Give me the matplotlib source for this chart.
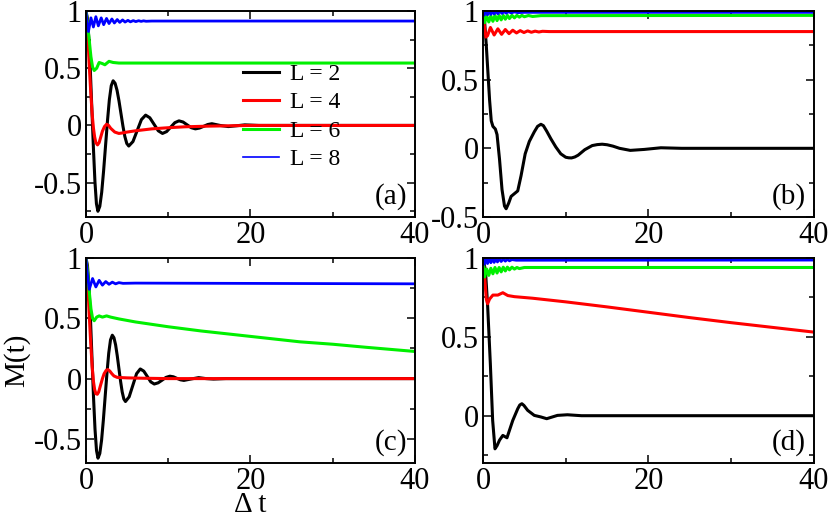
import matplotlib
matplotlib.use("Agg")
import matplotlib.pyplot as plt
from matplotlib.ticker import MultipleLocator, FormatStrFormatter

plt.rcParams['font.family'] = ['Liberation Serif', 'DejaVu Serif']
plt.rcParams['axes.unicode_minus'] = False

# ---- panel (a) ----
t_a2 = [0, 0.18, 0.36, 0.54, 0.725, 0.91, 1.09, 1.27, 1.45, 1.68, 1.91, 2.14, 2.375, 2.61, 2.84,
        3.07, 3.3, 3.54, 3.775, 4.01, 4.25, 4.49, 4.725, 4.96, 5.2, 5.71, 6.225, 6.74, 7.25, 7.76,
        8.275, 8.79, 9.3, 9.8, 10.3, 10.8, 11.3, 11.8, 12.3, 12.8, 13.3, 13.8, 14.3, 14.8, 15.3,
        16.3, 17.3, 18.3, 19.3, 21, 40]
m_a2 = [1.0, 0.933, 0.744, 0.459, 0.125, -0.209, -0.494, -0.684, -0.75, -0.707, -0.584, -0.398,
        -0.18, 0.038, 0.224, 0.347, 0.39, 0.368, 0.307, 0.215, 0.105, -0.005, -0.097, -0.158,
        -0.18, -0.141, -0.045, 0.051, 0.09, 0.067, 0.01, -0.047, -0.07, -0.054, -0.015, 0.024,
        0.04, 0.03, 0.005, -0.02, -0.03, -0.023, -0.008, 0.008, 0.015, 0.0, -0.01, -0.003,
        0.005, 0, 0]
t_a4 = [0, 0.1, 0.25, 0.4, 0.57, 0.75, 0.9, 1.05, 1.2, 1.4, 1.6, 1.8, 2.0, 2.25, 2.5, 2.75, 3.0,
        3.5, 4.0, 4.5, 5, 6, 8, 10, 12, 15, 20, 40]
m_a4 = [1.0, 0.93, 0.74, 0.52, 0.3, 0.1, -0.02, -0.1, -0.15, -0.17, -0.15, -0.1, -0.05, -0.01,
        0.01, 0.0, -0.025, -0.058, -0.07, -0.065, -0.058, -0.047, -0.03, -0.02, -0.012, -0.006,
        0, 0]
t_a6 = [0, 0.2, 0.4, 0.6, 0.8, 1.0, 1.3, 1.6, 2.0, 2.3, 2.8, 3.3, 4, 40]
m_a6 = [1.0, 0.88, 0.74, 0.6, 0.51, 0.48, 0.5, 0.55, 0.54, 0.53, 0.56, 0.55, 0.545, 0.545]
t_a8 = [0, 0.12, 0.3, 0.6, 0.9, 1.2, 1.5, 1.85, 2.15, 2.5, 2.8, 3.15, 3.45, 3.8, 4.1, 4.45, 4.75,
        5.1, 5.4, 5.75, 6.05, 6.4, 6.7, 7.0, 7.3, 8, 40]
m_a8 = [1.0, 0.9, 0.82, 0.94, 0.86, 0.95, 0.87, 0.94, 0.88, 0.935, 0.89, 0.93, 0.895, 0.925, 0.9,
        0.922, 0.903, 0.918, 0.905, 0.916, 0.907, 0.915, 0.909, 0.914, 0.91, 0.912, 0.912]

# ---- panel (b) ----
t_b2 = [0, 0.2, 0.4, 0.6, 0.8, 1.0, 1.2, 1.5, 1.7, 2.0, 2.3, 2.6, 2.8, 3.1, 3.4, 3.8, 4.2, 4.6,
        5.1, 5.6, 6.2, 6.6, 7.0, 7.3, 7.7, 8.2, 8.8, 9.4, 10.0, 10.35, 10.7, 11.1, 11.5, 12.3,
        13.2, 13.8, 14.4, 15.0, 15.7, 16.5, 17.8, 19.5, 21.5, 24, 40]
m_b2 = [1.0, 0.92, 0.75, 0.55, 0.35, 0.2, 0.16, 0.14, 0.1, -0.08, -0.3, -0.42, -0.44, -0.4,
        -0.35, -0.33, -0.31, -0.2, -0.04, 0.05, 0.12, 0.16, 0.175, 0.165, 0.125, 0.07, 0.01,
        -0.04, -0.065, -0.069, -0.07, -0.063, -0.05, -0.01, 0.02, 0.027, 0.03, 0.026, 0.016,
        0.0, -0.015, -0.008, 0.004, 0.0, 0.0]
t_b4 = [0, 0.15, 0.35, 0.55, 0.9, 1.35, 1.8, 2.25, 2.7, 3.15, 3.6, 4.05, 4.5, 4.95, 5.4, 5.85,
        6.3, 6.75, 7.2, 8, 40]
m_b4 = [1.0, 0.9, 0.81, 0.82, 0.88, 0.825, 0.87, 0.83, 0.865, 0.835, 0.86, 0.84, 0.857, 0.843,
        0.855, 0.845, 0.853, 0.847, 0.852, 0.85, 0.85]
t_b6 = [0, 0.2, 0.45, 0.7, 0.95, 1.2, 1.45, 1.7, 1.95, 2.2, 2.45, 2.7, 2.95, 3.2, 3.5, 3.8, 4.1,
        4.4, 4.7, 5, 5.5, 6, 7, 40]
m_b6 = [1.0, 0.915, 0.965, 0.92, 0.965, 0.925, 0.968, 0.93, 0.968, 0.935, 0.968, 0.94, 0.968,
        0.945, 0.968, 0.95, 0.968, 0.955, 0.968, 0.958, 0.967, 0.96, 0.966, 0.968]
t_b8 = [0, 0.15, 0.35, 0.55, 0.75, 0.95, 1.15, 1.35, 1.55, 1.8, 2.05, 2.3, 2.55, 2.8, 3.1, 3.4,
        3.8, 4.2, 5, 40]
m_b8 = [1.0, 0.97, 1.0, 0.972, 1.0, 0.975, 0.999, 0.978, 0.998, 0.98, 0.997, 0.982, 0.996,
        0.984, 0.995, 0.986, 0.993, 0.988, 0.99, 0.99]

# ---- panel (c) ----
t_c2 = [0, 0.18, 0.365, 0.55, 0.73, 0.91, 1.095, 1.28, 1.46, 1.68, 1.895, 2.11, 2.33, 2.55,
        2.765, 2.98, 3.2, 3.4, 3.6, 3.8, 4.0, 4.2, 4.4, 4.6, 4.8, 5.25, 5.7, 6.15, 6.6, 7.025,
        7.45, 7.875, 8.3, 8.775, 9.25, 9.725, 10.2, 10.63, 11.05, 11.48, 11.9, 12.8, 13.7, 14.6,
        15.5, 17, 40]
m_c2 = [1.0, 0.937, 0.758, 0.487, 0.17, -0.147, -0.418, -0.597, -0.66, -0.621, -0.511, -0.345,
        -0.15, 0.045, 0.211, 0.321, 0.36, 0.339, 0.28, 0.19, 0.085, -0.02, -0.11, -0.169, -0.19,
        -0.151, -0.055, 0.041, 0.08, 0.062, 0.018, -0.027, -0.045, -0.035, -0.013, 0.01, 0.02,
        0.015, 0.002, -0.01, -0.015, -0.003, 0.008, 0.0, -0.004, 0, 0]
t_c4 = [0, 0.1, 0.25, 0.4, 0.57, 0.75, 0.9, 1.05, 1.2, 1.38, 1.55, 1.75, 2.0, 2.2, 2.45, 2.67,
        2.9, 3.15, 3.4, 3.8, 5, 7, 10, 40]
m_c4 = [1.0, 0.93, 0.74, 0.52, 0.3, 0.1, -0.02, -0.09, -0.125, -0.13, -0.11, -0.06, 0.0, 0.04,
        0.068, 0.075, 0.062, 0.04, 0.022, 0.01, 0.006, 0.003, 0.0, 0.0]
t_c6 = [0, 0.2, 0.4, 0.6, 0.8, 1.0, 1.3, 1.6, 2.0, 2.5, 3.0, 4, 6, 8, 10, 14, 18, 22, 26, 30, 34, 40]
m_c6 = [1.0, 0.88, 0.72, 0.58, 0.5, 0.48, 0.51, 0.52, 0.51, 0.52, 0.51, 0.495, 0.47, 0.45, 0.43,
        0.395, 0.365, 0.335, 0.305, 0.285, 0.26, 0.225]
t_c8 = [0, 0.15, 0.4, 0.8, 1.2, 1.6, 2.0, 2.4, 2.8, 3.2, 3.6, 4.0, 4.5, 6, 40]
m_c8 = [1.0, 0.88, 0.74, 0.83, 0.76, 0.815, 0.775, 0.805, 0.782, 0.8, 0.786, 0.796, 0.79, 0.792, 0.786]

# ---- panel (d) ----
t_d2 = [0, 0.3, 0.56, 0.89, 1.17, 1.45, 1.7, 2.0, 2.4, 2.9, 3.6, 4.2, 4.45, 4.7, 4.95, 5.4, 6.2,
        7.0, 7.7, 9.0, 10.2, 11.9, 40]
m_d2 = [1.0, 0.92, 0.7, 0.33, -0.03, -0.21, -0.19, -0.155, -0.125, -0.14, -0.03, 0.044, 0.068,
        0.076, 0.065, 0.034, 0.002, -0.008, -0.019, 0.002, 0.006, 0.0, 0.0]
t_d4 = [0, 0.2, 0.4, 0.56, 0.8, 1.2, 1.8, 2.4, 3.0, 3.8, 6, 10, 15, 20, 25, 30, 35, 40]
m_d4 = [1.0, 0.88, 0.74, 0.71, 0.74, 0.765, 0.765, 0.78, 0.762, 0.755, 0.745, 0.722, 0.69,
        0.656, 0.622, 0.59, 0.56, 0.53]
t_d6 = [0, 0.2, 0.45, 0.7, 0.95, 1.2, 1.45, 1.7, 1.95, 2.2, 2.45, 2.7, 2.95, 3.2, 3.5, 3.8, 4.1,
        4.4, 5, 40]
m_d6 = [1.0, 0.88, 0.93, 0.89, 0.935, 0.9, 0.94, 0.905, 0.94, 0.912, 0.942, 0.918, 0.942,
        0.925, 0.942, 0.93, 0.94, 0.933, 0.94, 0.94]
t_d8 = [0, 0.15, 0.35, 0.55, 0.75, 0.95, 1.15, 1.35, 1.55, 1.75, 1.95, 2.2, 2.45, 2.7, 2.95,
        3.2, 3.5, 4, 40]
m_d8 = [1.0, 0.96, 1.0, 0.965, 0.998, 0.97, 0.997, 0.972, 0.996, 0.975, 0.995, 0.978, 0.994,
        0.98, 0.992, 0.982, 0.99, 0.986, 0.987]

labels = ['L = 2', 'L = 4', 'L = 6', 'L = 8']
colors = ['black', 'red', '#00f000', 'blue']

panels = [
    ('(a)', [0.1036, 0.5827, 0.3964, 0.3962], (-0.8, 1.0),
     [(t_a2, m_a2), (t_a4, m_a4), (t_a6, m_a6), (t_a8, m_a8)]),
    ('(b)', [0.5819, 0.5827, 0.3988, 0.3962], (-0.5, 1.0),
     [(t_b2, m_b2), (t_b4, m_b4), (t_b6, m_b6), (t_b8, m_b8)]),
    ('(c)', [0.1036, 0.1096, 0.3964, 0.3942], (-0.7, 1.0),
     [(t_c2, m_c2), (t_c4, m_c4), (t_c6, m_c6), (t_c8, m_c8)]),
    ('(d)', [0.5819, 0.1096, 0.3988, 0.3942], (-0.3, 1.0),
     [(t_d2, m_d2), (t_d4, m_d4), (t_d6, m_d6), (t_d8, m_d8)]),
]

fig = plt.figure(figsize=(8.3, 5.2), dpi=100)

axes = []
for tag, rect, ylim, series in panels:
    ax = fig.add_axes(rect)
    for (t, m), c, lab in zip(series, colors, labels):
        ax.plot(t, m, color=c, lw=2.2 if c != 'blue' else 2.0, label=lab,
                solid_joinstyle='round')
    ax.set_xlim(0, 40)
    ax.set_ylim(*ylim)
    ax.xaxis.set_major_locator(MultipleLocator(20))
    ax.xaxis.set_minor_locator(MultipleLocator(10))
    ax.yaxis.set_major_locator(MultipleLocator(0.5))
    ax.yaxis.set_minor_locator(MultipleLocator(0.25))
    ax.xaxis.set_major_formatter(FormatStrFormatter('%g'))
    ax.yaxis.set_major_formatter(FormatStrFormatter('%g'))
    ax.tick_params(which='both', direction='in', top=True, right=True, width=1.1,
                   labelsize=22)
    ax.tick_params(which='major', length=5.5, pad=3)
    ax.tick_params(which='minor', length=3.5)
    for s in ax.spines.values():
        s.set_linewidth(1.4)
    ax.text(0.975, 0.035, tag, transform=ax.transAxes, ha='right', va='bottom',
            fontsize=21)
    axes.append(ax)

leg = axes[0].legend(loc='upper left', bbox_to_anchor=(0.476, 0.745), frameon=False,
                     fontsize=17, handlelength=1.55, handletextpad=0.45,
                     labelspacing=0.29, borderpad=0, borderaxespad=0)
leg.get_lines()[3].set_linewidth(1.2)

fig.text(0.004, 0.308, 'M(t)', rotation=90, ha='left', va='center', fontsize=21)
fig.text(0.302, 0.003, 'Δ t', ha='center', va='bottom', fontsize=21)

fig.savefig('out.png', dpi=100)
